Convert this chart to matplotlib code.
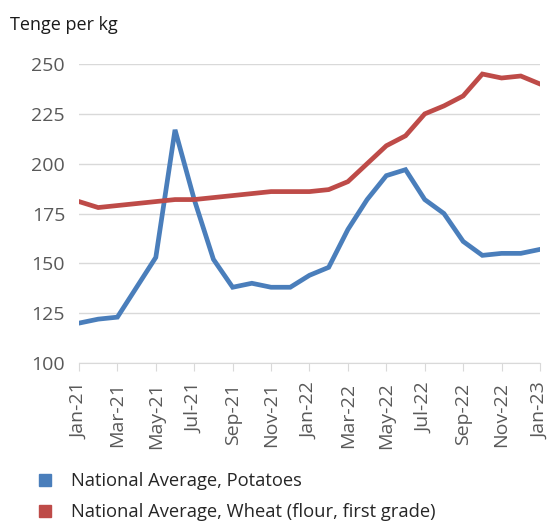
import matplotlib.pyplot as plt
from matplotlib.lines import Line2D

plt.rcParams['font.family'] = ['Open Sans', 'DejaVu Sans']

months = ['Jan-21', 'Feb-21', 'Mar-21', 'Apr-21', 'May-21', 'Jun-21', 'Jul-21', 'Aug-21',
          'Sep-21', 'Oct-21', 'Nov-21', 'Dec-21', 'Jan-22', 'Feb-22', 'Mar-22', 'Apr-22',
          'May-22', 'Jun-22', 'Jul-22', 'Aug-22', 'Sep-22', 'Oct-22', 'Nov-22', 'Dec-22', 'Jan-23']
potatoes = [120, 122, 123, 138, 153, 217, 182, 152, 138, 140, 138, 138, 144, 148,
            167, 182, 194, 197, 182, 175, 161, 154, 155, 155, 157]
wheat = [181, 178, 179, 180, 181, 182, 182, 183, 184, 185, 186, 186, 186, 187,
         191, 200, 209, 214, 225, 229, 234, 245, 243, 244, 240]

blue = '#4a7ebb'
red = '#be4b48'
grey = '#595959'

fig = plt.figure(figsize=(5.5, 5.25), dpi=100)
ax = fig.add_axes([0.1436, 0.3086, 0.8382, 0.5694])

x = list(range(len(months)))
ax.plot(x, potatoes, color=blue, lw=3.4, solid_joinstyle='miter', zorder=3)
ax.plot(x, wheat, color=red, lw=3.4, solid_joinstyle='miter', zorder=3)

ax.set_xlim(0, len(months) - 1)
ax.set_ylim(100, 250)
ax.set_yticks(range(100, 251, 25))
ax.set_xticks(x[::2])
ax.set_xticklabels(months[::2], rotation=90)

ax.grid(axis='y', color='#d9d9d9', lw=1)
ax.set_axisbelow(True)
for s in ['top', 'right', 'left']:
    ax.spines[s].set_visible(False)
ax.spines['bottom'].set_color('#d9d9d9')
ax.tick_params(axis='y', length=0, pad=10, labelsize=14, labelcolor=grey)
ax.tick_params(axis='x', length=6, color='#d9d9d9', pad=8, labelsize=14, labelcolor=grey)

fig.text(0.018, 0.952, 'Tenge per kg', fontsize=13, color='#1a1a1a', va='center')

handles = [Line2D([], [], marker='s', ls='none', color=blue, markersize=8),
           Line2D([], [], marker='s', ls='none', color=red, markersize=8)]
fig.legend(handles, ['National Average, Potatoes',
                     'National Average, Wheat (flour, first grade)'],
           loc='lower left', bbox_to_anchor=(0.036, -0.024), frameon=False,
           fontsize=13.2, labelspacing=0.7, handletextpad=0.9, handlelength=1.0,
           labelcolor='#262626')

fig.savefig('out.png')
